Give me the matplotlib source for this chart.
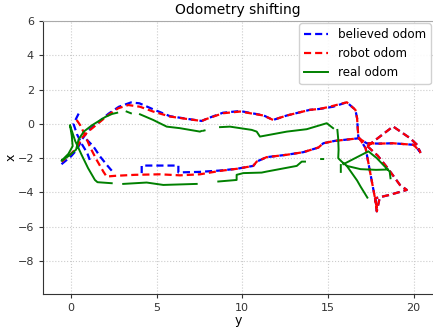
import numpy as np
import matplotlib
matplotlib.use("Agg")
import matplotlib.pyplot as plt

nan = np.nan

# believed odometry (y, x) with breaks where the log has gaps
believed_y = [-0.55, 0.0, 0.35, 0.65, 1.0, 1.6, 2.2, 2.8, 3.5, 4.0, 4.8, 5.78, 6.75, 7.63, 7.92, 8.87, 9.87,
              11.23, 11.8, 12.6, 13.95, 14.5, 15.3, 16.1, 16.6, 16.7, 16.77, 17.2, 17.85, nan,
              0.45, 0.15, 0.35, 0.65, 0.95, 1.1, nan,
              0.9, 1.3, 1.7, 2.1, 2.4, nan,
              4.13, 4.13, 6.27, 6.27, 7.5, 8.7, 9.67, 10.64, 10.84, 11.42, 12.6, 13.56, 14.44, 14.73,
              15.4, 16.8, 17.26, 18.0, 18.8, 20.0, 20.4, nan,
              17.3, 18.8, 19.8, 20.2, 20.4, nan,
              17.3, 17.9, 18.5, 19.2, 19.6, 18.6, 17.75, 17.85, 18.0]
believed_x = [-2.35, -1.9, -1.5, -0.9, -0.4, 0.1, 0.6, 1.0, 1.25, 1.2, 0.85, 0.45, 0.3, 0.17, 0.3, 0.65, 0.75,
              0.5, 0.23, 0.49, 0.82, 0.87, 1.0, 1.26, 0.82, 0.33, -0.74, -1.42, -4.9, nan,
              0.6, 0.0, -0.6, -1.2, -1.7, -2.1, nan,
              -0.9, -1.3, -1.9, -2.4, -2.75, nan,
              -2.87, -2.43, -2.43, -2.83, -2.8, -2.72, -2.62, -2.45, -2.2, -1.94, -1.8, -1.65, -1.38, -1.13,
              -0.99, -0.84, -1.13, -1.15, -1.13, -1.22, -1.65, nan,
              -1.3, -0.15, -0.84, -1.22, -1.7, nan,
              -1.3, -1.85, -2.6, -3.56, -3.85, -4.14, -4.34, -5.1, -4.4]

# robot odometry
robot_y = [0.33, 0.53, 0.82, 1.1, 1.5, 1.89, 2.08, 2.57, 3.74, 5.2, 6.36, 7.53, 8.7, 9.67, 10.64, 10.84,
           11.42, 12.6, 13.56, 14.44, 14.73, 15.4, 16.8, 17.26, 18.0, 18.8, 20.0, 20.4, nan,
           17.3, 18.8, 19.8, 20.2, 20.4, nan,
           17.3, 17.9, 18.5, 19.2, 19.6, 18.6, 17.75, 17.85, 18.0, nan,
           17.85, 17.2, 16.77, 16.7, 16.6, 16.1, 15.1, 14.5, 13.95, 12.6, 11.8, 11.23, 9.87, 8.87,
           7.92, 7.63, 6.75, 5.78, 4.8, 4.03, 3.35, 2.76, 2.18, 1.6, 1.0, 0.62, 0.33, -0.06, -0.54]
robot_x = [0.23, -0.06, -0.64, -1.32, -2.1, -2.78, -3.07, -3.03, -2.97, -2.94, -3.0, -2.94, -2.74, -2.62,
           -2.45, -2.2, -1.94, -1.8, -1.65, -1.38, -1.13, -0.99, -0.84, -1.13, -1.15, -1.13, -1.22, -1.65, nan,
           -1.3, -0.15, -0.84, -1.22, -1.7, nan,
           -1.3, -1.85, -2.6, -3.56, -3.85, -4.14, -4.34, -5.1, -4.4, nan,
           -4.9, -1.42, -0.74, 0.33, 0.82, 1.26, 1.0, 0.87, 0.82, 0.49, 0.23, 0.49, 0.72, 0.62,
           0.29, 0.17, 0.29, 0.43, 0.72, 1.0, 1.1, 0.91, 0.52, 0.04, -0.45, -0.83, -1.42, -1.8, -2.2]

# real odometry
real_y = [-0.05, 0.05, 0.1, -0.15, -0.55, -0.1, 0.3, 0.45, 0.75, 1.2, 1.6, 2.0, 2.4, 2.7, nan,
          -0.05, 0.25, 0.62, 1.0, 1.4, 1.55, 2.38, nan,
          3.05, 4.42, 5.39, 7.34, nan,
          8.6, 9.67, 9.67, 10.06, 11.13, 11.42, 13.18, 13.47, 13.66, nan,
          14.6, 14.72, nan,
          3.25, 3.5, nan,
          4.03, 4.8, 5.59, 6.36, 7.53, 7.6, nan,
          7.72, 7.8, nan,
          8.7, 9.28, 10.55, 10.84, 11.03, 12.6, 13.76, 14.93, 15.3, nan,
          15.55, 15.6, 15.62, 15.6, 15.8, 16.1, 16.9, 17.8, 18.5, nan,
          16.1, 16.7, 16.9, 17.3, nan,
          15.9, 17.36, 17.85, 18.6, 18.65, nan,
          15.75, 15.75]
real_x = [-0.1, -0.7, -1.3, -1.75, -2.15, -1.85, -1.5, -0.9, -0.45, -0.1, 0.15, 0.4, 0.58, 0.65, nan,
          -0.1, -1.0, -1.8, -2.58, -3.27, -3.4, -3.46, nan,
          -3.5, -3.42, -3.56, -3.5, nan,
          -3.36, -3.27, -2.97, -2.87, -2.84, -2.78, -2.45, -2.2, -2.2, nan,
          -2.05, -2.05, nan,
          0.72, 0.62, nan,
          0.56, 0.23, -0.16, -0.25, -0.45, -0.42, nan,
          -0.4, -0.38, nan,
          -0.19, -0.16, -0.35, -0.45, -0.74, -0.45, -0.31, 0.04, -0.25, nan,
          -0.35, -0.9, -1.5, -2.0, -2.2, -2.45, -2.64, -2.68, -2.66, nan,
          -2.45, -3.3, -3.65, -4.3, nan,
          -2.35, -1.6, -2.0, -2.78, -3.17, nan,
          -2.4, -2.8]

fig = plt.figure(figsize=(4.33, 3.29), dpi=100)
ax = fig.add_axes([43 / 433, 35 / 329, 390 / 433, 273 / 329])

ax.plot(believed_y, believed_x, '--', color='blue', lw=1.6, dashes=(3.2, 1.8), label='believed odom')
ax.plot(robot_y, robot_x, '--', color='red', lw=1.6, dashes=(3.2, 1.8), label='robot odom')
ax.plot(real_y, real_x, '-', color='green', lw=1.4, label='real odom')

ax.set_xlim(-1.63, 21.13)
ax.set_ylim(-9.92, 6.0)
ax.set_xticks([0, 5, 10, 15, 20])
ax.set_yticks([6, 4, 2, 0, -2, -4, -6, -8])
ax.grid(True, linestyle=':', color='#cccccc', lw=0.8)
ax.tick_params(labelsize=8, colors='#333333', length=3)

for side in ['left', 'bottom']:
    ax.spines[side].set_color('#333333')
ax.spines['top'].set_color('#aaaaaa')
ax.spines['right'].set_visible(False)

ax.set_title('Odometry shifting', fontsize=10, pad=5)
ax.set_xlabel('y', fontsize=9, labelpad=1)
ax.set_ylabel('x', fontsize=9, labelpad=0)
ax.legend(loc='upper right', fontsize=8.6, framealpha=0.9, borderaxespad=0.2)

fig.savefig('out.png', dpi=100)
